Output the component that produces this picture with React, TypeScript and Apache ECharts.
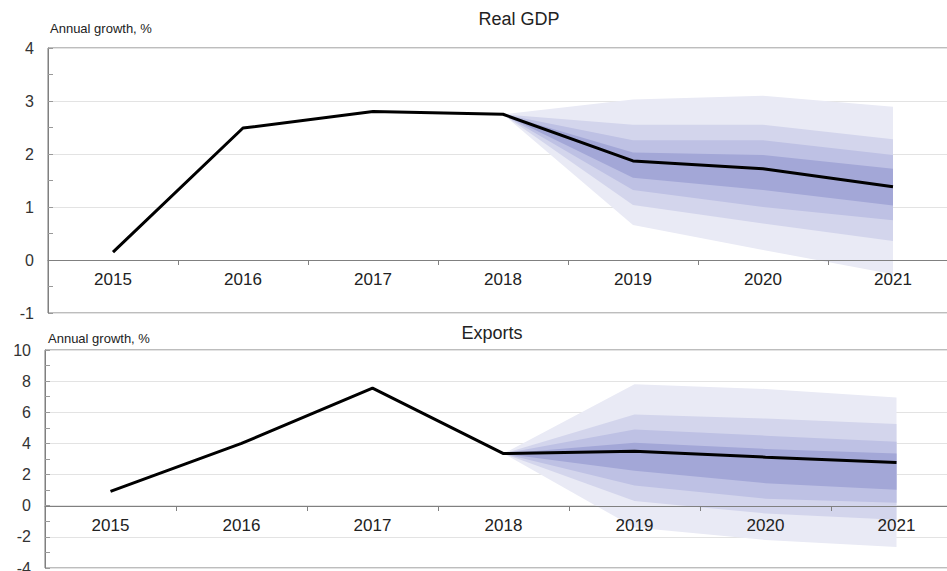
import React, { useEffect, useRef } from "react";
import * as echarts from "echarts";

const years = ["2015", "2016", "2017", "2018", "2019", "2020", "2021"];

// Real GDP, annual growth %
const gdp = [0.15, 2.49, 2.8, 2.75, 1.87, 1.72, 1.38];
// Fan bands (2018..2021), outer to inner
const gdpBand1Upper = [2.75, 3.03, 3.1, 2.89];
const gdpBand1Lower = [2.75, 0.66, 0.19, -0.27];
const gdpBand2Upper = [2.75, 2.55, 2.55, 2.28];
const gdpBand2Lower = [2.75, 1.04, 0.69, 0.36];
const gdpBand3Upper = [2.75, 2.26, 2.26, 1.98];
const gdpBand3Lower = [2.75, 1.32, 1.0, 0.75];
const gdpBand4Upper = [2.75, 2.03, 1.98, 1.72];
const gdpBand4Lower = [2.75, 1.55, 1.32, 1.03];

// Exports, annual growth %
const exportsGrowth = [0.92, 4.0, 7.55, 3.35, 3.5, 3.12, 2.77];
const expBand1Upper = [3.35, 7.8, 7.5, 6.95];
const expBand1Lower = [3.35, -1.4, -2.2, -2.65];
const expBand2Upper = [3.35, 5.85, 5.6, 5.25];
const expBand2Lower = [3.35, 0.3, -0.5, -0.9];
const expBand3Upper = [3.35, 4.9, 4.5, 4.1];
const expBand3Lower = [3.35, 1.3, 0.45, 0.19];
const expBand4Upper = [3.35, 4.05, 3.65, 3.35];
const expBand4Lower = [3.35, 2.25, 1.45, 1.03];

const bandColors = ["#e9eaf5", "#d3d5ec", "#bec1e4", "#a3a7d7"];
const FONT = "'Liberation Sans', Arial, sans-serif";

// Grid geometry (layout only)
const GRID_TOP = { left: 48, right: -11, top: 48, height: 265 };
const GRID_BOTTOM = { left: 45, right: -15, top: 350, height: 218 };

function bandSeries(
  name: string,
  idx: number,
  lower: number[],
  upper: number[],
  color: string
): any[] {
  const lead = years.length - lower.length;
  const pad: (number | null)[] = new Array(lead).fill(null);
  const lowData = [...pad, ...lower];
  const diffData = [...pad, ...upper.map((u, i) => +(u - lower[i]).toFixed(3))];
  const common = {
    type: "line",
    xAxisIndex: idx,
    yAxisIndex: idx,
    stack: name,
    stackStrategy: "all",
    symbol: "none",
    silent: true,
    lineStyle: { width: 0, opacity: 0 },
  };
  return [
    { ...common, name: name + "-base", data: lowData },
    { ...common, name: name + "-fill", data: diffData, areaStyle: { color, opacity: 1 } },
  ];
}

export default function App() {
  const ref = useRef<HTMLDivElement>(null);
  useEffect(() => {
    if (!ref.current) return;
    const chart = echarts.init(ref.current, undefined, { renderer: "svg" });

    const gridCommon = {
      show: true,
      borderColor: "#7a7a7a",
      borderWidth: 1,
      backgroundColor: "transparent",
      containLabel: false,
      outerBoundsMode: "none",
    };

    // offset the category axis up to the value-axis zero
    const zeroOffset = (height: number, min: number, max: number) =>
      -Math.round((height * (0 - min)) / (max - min));

    const xAxisCommon = (gi: number, offset: number) => ({
      type: "category",
      gridIndex: gi,
      data: years,
      boundaryGap: true,
      z: 10,
      offset,
      axisLine: {
        show: true,
        onZero: false,
        lineStyle: { color: "#808080", width: 1 },
      },
      axisTick: { show: true, length: 5, lineStyle: { color: "#808080" } },
      axisLabel: { color: "#222", fontSize: 17, fontFamily: FONT, margin: 11 },
      splitLine: { show: false },
    });

    const yAxisCommon = (gi: number, min: number, max: number, interval: number) => ({
      type: "value",
      gridIndex: gi,
      min,
      max,
      interval,
      axisLine: { show: true, onZero: false, lineStyle: { color: "#808080" } },
      axisTick: { show: true, inside: true, length: 5, lineStyle: { color: "#999" } },
      minorTick: { show: true, splitNumber: 2, length: 5, lineStyle: { color: "#999" } },
      axisLabel: { color: "#333", fontSize: 16, fontFamily: FONT, margin: 14 },
      splitLine: { show: true, lineStyle: { color: "#e3e3e3", width: 1 } },
    });

    const series: any[] = [
      ...bandSeries("g1", 0, gdpBand1Lower, gdpBand1Upper, bandColors[0]),
      ...bandSeries("g2", 0, gdpBand2Lower, gdpBand2Upper, bandColors[1]),
      ...bandSeries("g3", 0, gdpBand3Lower, gdpBand3Upper, bandColors[2]),
      ...bandSeries("g4", 0, gdpBand4Lower, gdpBand4Upper, bandColors[3]),
      {
        type: "line",
        name: "Real GDP",
        xAxisIndex: 0,
        yAxisIndex: 0,
        data: gdp,
        symbol: "none",
        z: 5,
        lineStyle: { color: "#000", width: 3 },
      },
      ...bandSeries("e1", 1, expBand1Lower, expBand1Upper, bandColors[0]),
      ...bandSeries("e2", 1, expBand2Lower, expBand2Upper, bandColors[1]),
      ...bandSeries("e3", 1, expBand3Lower, expBand3Upper, bandColors[2]),
      ...bandSeries("e4", 1, expBand4Lower, expBand4Upper, bandColors[3]),
      {
        type: "line",
        name: "Exports",
        xAxisIndex: 1,
        yAxisIndex: 1,
        data: exportsGrowth,
        symbol: "none",
        z: 5,
        lineStyle: { color: "#000", width: 3 },
      },
    ];

    chart.setOption({
      animation: false,
      backgroundColor: "#fff",
      textStyle: { fontFamily: FONT },
      grid: [
        { ...gridCommon, ...GRID_TOP },
        { ...gridCommon, ...GRID_BOTTOM },
      ],
      xAxis: [
        xAxisCommon(0, zeroOffset(GRID_TOP.height, -1, 4)),
        xAxisCommon(1, zeroOffset(GRID_BOTTOM.height, -4, 10)),
      ],
      yAxis: [yAxisCommon(0, -1, 4, 1), yAxisCommon(1, -4, 10, 2)],
      graphic: [
        {
          type: "text",
          x: 519,
          y: 19,
          style: {
            text: "Real GDP",
            fontSize: 18,
            fontFamily: FONT,
            fill: "#222",
            textAlign: "center",
            textVerticalAlign: "middle",
          },
        },
        {
          type: "text",
          x: 492,
          y: 333,
          style: {
            text: "Exports",
            fontSize: 18,
            fontFamily: FONT,
            fill: "#222",
            textAlign: "center",
            textVerticalAlign: "middle",
          },
        },
        {
          type: "text",
          x: 50,
          y: 28,
          style: {
            text: "Annual growth, %",
            fontSize: 13,
            fontFamily: FONT,
            fill: "#222",
            textAlign: "left",
            textVerticalAlign: "middle",
          },
        },
        {
          type: "text",
          x: 48,
          y: 338,
          style: {
            text: "Annual growth, %",
            fontSize: 13,
            fontFamily: FONT,
            fill: "#222",
            textAlign: "left",
            textVerticalAlign: "middle",
          },
        },
      ],
      series,
    });

    return () => chart.dispose();
  }, []);

  return (
    <div
      ref={ref}
      style={{ position: "fixed", left: 0, top: 0, width: 947, height: 571, background: "#fff" }}
    />
  );
}
